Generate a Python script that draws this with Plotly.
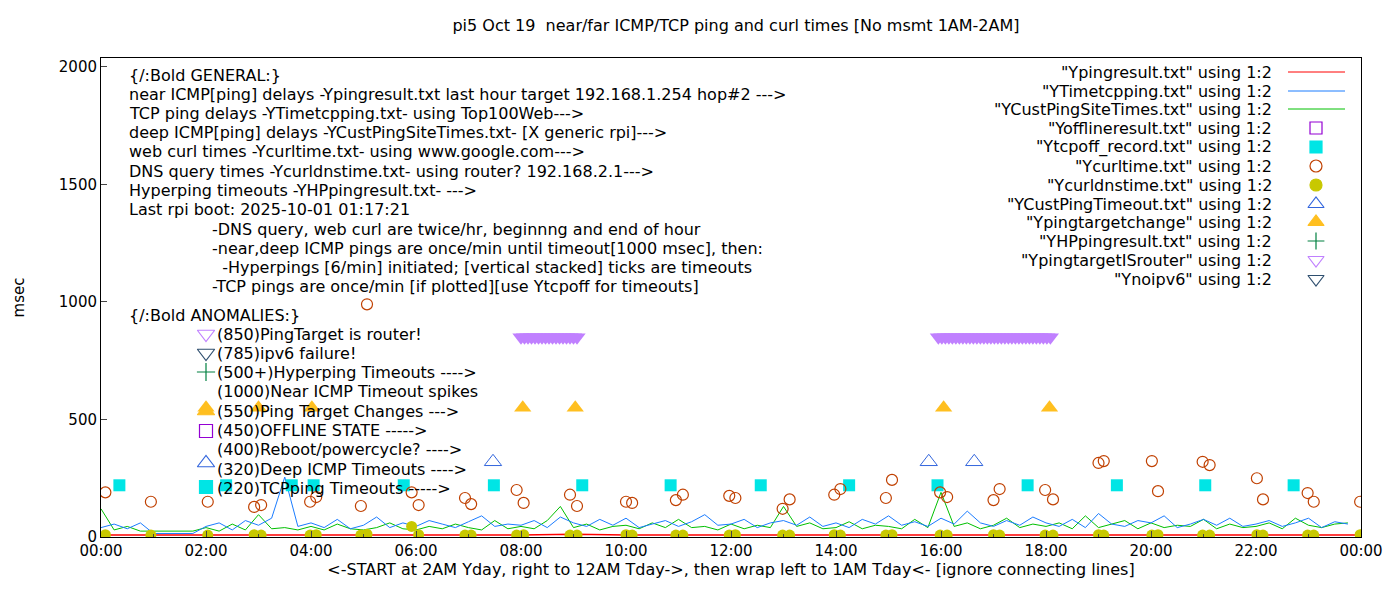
import pandas as pd
import plotly.graph_objects as go

DAY = "2025-10-19 "

# ---- line series (15 min samples) ----
line_times = pd.date_range(DAY + "00:00", periods=96, freq="15min")
tcp_ms = [40,55,35,60, 15,15,15,15, 45,60,30,70, 50,80,255,45, 60,40,75,35, 50,85,40,60,
          45,70,55,40, 65,90,45,55, 50,70,40,85, 60,45,75,50, 80,40,55,70, 45,65,95,50,
          55,75,40,60, 70,50,85,45, 60,40,75,55, 90,50,65,45, 80,55,110,60, 45,70,50,85,
          60,45,75,40, 100,55,45,70, 60,90,40,55, 75,50,80,45, 55,70,45,60, 80,40,65,55]
deep_ms = [120,30,45,25, 25,25,25,25, 40,25,55,30, 95,35,40,30, 45,30,55,35, 30,40,60,35,
           30,45,35,55, 40,30,70,35, 45,35,70,130, 40,55,30,45, 50,35,60,40, 75,40,45,30,
           55,35,50,40, 130,45,60,35, 40,65,35,50, 45,35,75,40, 190,45,60,35, 50,80,40,55,
           45,60,35,90, 40,55,70,35, 60,40,50,45, 75,35,55,40, 45,60,35,80, 50,40,55,60]
near_times = pd.date_range(DAY + "00:00", periods=25, freq="1h")
near_ms = [8,8,8,8,8,8,9,8,8,12,8,8,8,8,8,8,8,10,8,8,8,8,8,8,8]

# ---- curl / dns ----
curl_times = ["00:05","00:57","02:02","02:55","03:03","03:59","04:06","04:57","05:04","05:55","06:03",
              "06:56","07:03","07:55","08:03","08:56","09:04","10:00","10:07","10:57","11:05","11:58",
              "12:05","12:59","13:07","13:58","14:05","14:57","15:04","15:59","16:07","17:00","17:07",
              "17:59","18:08","19:00","19:06","20:01","20:08","20:59","21:07","22:01","22:08","22:59",
              "23:06","23:59"]
curl_ms = [190,150,150,128,136,150,170,132,990,190,136,166,140,200,145,180,132,150,145,157,180,175,
           166,120,160,180,204,166,243,190,170,157,204,200,160,315,323,323,195,320,306,250,160,187,
           150,150]
dns_ms = [10,8,8,10,8,8,10,8,12,45,10,8,8,8,10,8,8,10,8,8,8,8,10,8,8,10,8,8,10,8,8,10,8,8,8,10,8,
          8,10,8,8,10,8,8,8,10]

tcpoff_times = ["00:21","02:23","03:38","04:03","05:46","07:29","09:10","10:51","12:34","14:15",
                "15:56","17:39","19:21","21:02","22:43"]
target_times = ["02:00","03:00","04:01","08:02","09:02","16:03","18:04"]
deep_to_times = ["07:28","15:46","16:38"]
router_times = ["08:00","08:04","08:08","08:12","08:16","08:20","08:24","08:28","08:32","08:36",
                "08:40","08:44","08:48","08:52","08:56","09:00","09:04",
                "15:57","16:01","16:05","16:09","16:13","16:17","16:21","16:25","16:29","16:33",
                "16:37","16:41","16:45","16:49","16:53","16:57","17:01","17:05","17:09","17:13",
                "17:17","17:21","17:25","17:29","17:33","17:37","17:41","17:45","17:49","17:53",
                "17:57","18:01","18:05"]

def ts(lst):
    return pd.to_datetime([DAY + t for t in lst])

general = ["{/:Bold GENERAL:}",
           "near ICMP[ping] delays -Ypingresult.txt last hour target 192.168.1.254 hop#2 --->",
           "TCP ping delays -YTimetcpping.txt- using Top100Web--->",
           "deep ICMP[ping] delays -YCustPingSiteTimes.txt- [X generic rpi]--->",
           "web curl times -Ycurltime.txt- using www.google.com--->",
           "DNS query times -Ycurldnstime.txt- using router? 192.168.2.1--->",
           "Hyperping timeouts -YHPpingresult.txt- --->",
           "Last rpi boot: 2025-10-01 01:17:21"]
notes = ["-DNS query, web curl are twice/hr, beginnng and end of hour",
         "-near,deep ICMP pings are once/min until timeout[1000 msec], then:",
         "  -Hyperpings [6/min] initiated; [vertical stacked] ticks are timeouts",
         "-TCP pings are once/min [if plotted][use Ytcpoff for timeouts]"]
anomalies = ["(850)PingTarget is router!", "(785)ipv6 failure!", "(500+)Hyperping Timeouts ---->",
             "(1000)Near ICMP Timeout spikes", "(550)Ping Target Changes --->",
             "(450)OFFLINE STATE ----->", "(400)Reboot/powercycle? ---->",
             "(320)Deep ICMP Timeouts ---->", "(220)TCPping Timeouts ----->"]
legend_names = ['"Ypingresult.txt" using 1:2', '"YTimetcpping.txt" using 1:2',
                '"YCustPingSiteTimes.txt" using 1:2', '"Yofflineresult.txt" using 1:2',
                '"Ytcpoff_record.txt" using 1:2', '"Ycurltime.txt" using 1:2',
                '"Ycurldnstime.txt" using 1:2', '"YCustPingTimeout.txt" using 1:2',
                '"Ypingtargetchange" using 1:2', '"YHPpingresult.txt" using 1:2',
                '"YpingtargetISrouter" using 1:2', '"Ynoipv6" using 1:2']

RED, BLUE, GREEN = "#ff0000", "#1a7cff", "#00c000"
CYAN, CURL, DNS = "#00e5e5", "#c04000", "#c8c800"
DTO, TGT, ROUTER, OFF, IPV6, HP = "#3366dd", "#ffbf20", "#c080ff", "#9400d3", "#2f4f6f", "#008040"

fig = go.Figure()
fig.add_trace(go.Scatter(x=near_times, y=near_ms, mode="lines", line=dict(color=RED, width=1.5)))
fig.add_trace(go.Scatter(x=line_times, y=deep_ms, mode="lines", line=dict(color=GREEN, width=1)))
fig.add_trace(go.Scatter(x=line_times, y=tcp_ms, mode="lines", line=dict(color=BLUE, width=1)))
fig.add_trace(go.Scatter(x=ts(tcpoff_times), y=[220]*len(tcpoff_times), mode="markers",
                         marker=dict(symbol="square", size=12, color=CYAN)))
fig.add_trace(go.Scatter(x=ts(curl_times), y=curl_ms, mode="markers",
                         marker=dict(symbol="circle-open", size=11, color=CURL, line=dict(width=1.2))))
fig.add_trace(go.Scatter(x=ts(curl_times), y=dns_ms, mode="markers",
                         marker=dict(symbol="circle", size=11, color=DNS)))
fig.add_trace(go.Scatter(x=ts(deep_to_times), y=[320]*3, mode="markers",
                         marker=dict(symbol="triangle-up-open", size=15, color=DTO, line=dict(width=1))))
fig.add_trace(go.Scatter(x=ts(target_times), y=[550]*len(target_times), mode="markers",
                         marker=dict(symbol="triangle-up", size=15, color=TGT)))
fig.add_trace(go.Scatter(x=ts(router_times), y=[850]*len(router_times), mode="markers",
                         marker=dict(symbol="triangle-down", size=15, color=ROUTER)))

# overlay pixel axis for text-legend symbols
sym = [("triangle-down-open", ROUTER, 334), ("triangle-down-open", IPV6, 353), ("cross-thin-open", HP, 372),
       ("triangle-up", TGT, 411), ("square-open", OFF, 431), ("triangle-up-open", DTO, 463),
       ("square", CYAN, 487)]
for s, c, y in sym:
    fig.add_trace(go.Scatter(x=[206], y=[y], xaxis="x2", yaxis="y2", mode="markers",
                             marker=dict(symbol=s, size=15 if "triangle" in s else 13, color=c,
                                         line=dict(width=1.2, color=c))))

leg_y = [72, 91, 109, 128, 147, 166, 185, 204, 222, 241, 260, 279]
leg_sym = [("line", RED), ("line", BLUE), ("line", GREEN), ("square-open", OFF), ("square", CYAN),
           ("circle-open", CURL), ("circle", DNS), ("triangle-up-open", DTO), ("triangle-up", TGT),
           ("cross-thin-open", HP), ("triangle-down-open", ROUTER), ("triangle-down-open", IPV6)]
ann = []
for name, (s, c), y in zip(legend_names, leg_sym, leg_y):
    ann.append(dict(x=1274, y=y, xref="x2", yref="y2", text=name, showarrow=False, xanchor="right"))
    if s == "line":
        fig.add_trace(go.Scatter(x=[1288, 1345], y=[y, y], xaxis="x2", yaxis="y2", mode="lines",
                                 line=dict(color=c, width=1)))
    else:
        fig.add_trace(go.Scatter(x=[1316], y=[y], xaxis="x2", yaxis="y2", mode="markers",
                                 marker=dict(symbol=s, size=14 if "triangle" in s else 12, color=c,
                                             line=dict(width=1.2, color=c))))

for i, t in enumerate(general):
    ann.append(dict(x=127, y=75 + i * 19.2, xref="x2", yref="y2", text=t, showarrow=False, xanchor="left"))
for i, t in enumerate(notes):
    ann.append(dict(x=210, y=229 + i * 19.2, xref="x2", yref="y2", text=t.replace(" ", "&nbsp;"),
                    showarrow=False, xanchor="left"))
ann.append(dict(x=127, y=315, xref="x2", yref="y2", text="{/:Bold ANOMALIES:}", showarrow=False, xanchor="left"))
for i, t in enumerate(anomalies):
    ann.append(dict(x=215, y=334 + i * 19.3, xref="x2", yref="y2", text=t, showarrow=False, xanchor="left"))

fig.update_layout(
    width=1400, height=600, showlegend=False,
    plot_bgcolor="white", paper_bgcolor="white",
    margin=dict(l=93, r=47, t=50, b=71),
    font=dict(family="DejaVu Sans", size=16, color="black"),
    title=dict(text="pi5 Oct 19  near/far ICMP/TCP ping and curl times [No msmt 1AM-2AM]",
               x=0.52, xanchor="center", y=0.98, font=dict(size=16)),
    xaxis=dict(type="date", range=[DAY + "00:00", "2025-10-20 00:00"], tickformat="%H:%M",
               dtick=7200000, tick0=DAY + "00:00", ticks="inside", ticklen=6, showgrid=False,
               showline=True, mirror=True, linecolor="black", zeroline=False, automargin=False,
               tickfont=dict(size=15),
               minor=dict(ticks="inside", ticklen=3, dtick=3600000),
               title=dict(text="<-START at 2AM Yday, right to 12AM Tday->, then wrap left to 1AM Tday<- [ignore connecting lines]",
                          standoff=4, font=dict(size=16))),
    yaxis=dict(range=[0, 2038], dtick=500, ticks="inside", ticklen=6, showgrid=False, automargin=False,
               showline=True, mirror=True, linecolor="black", zeroline=False, tickfont=dict(size=15),
               title=dict(text="msec", standoff=30, font=dict(size=15))),
    xaxis2=dict(overlaying="x", range=[101, 1361], visible=False),
    yaxis2=dict(overlaying="y", range=[537, 58], visible=False),
    annotations=ann,
)
fig.write_html("out.html")
